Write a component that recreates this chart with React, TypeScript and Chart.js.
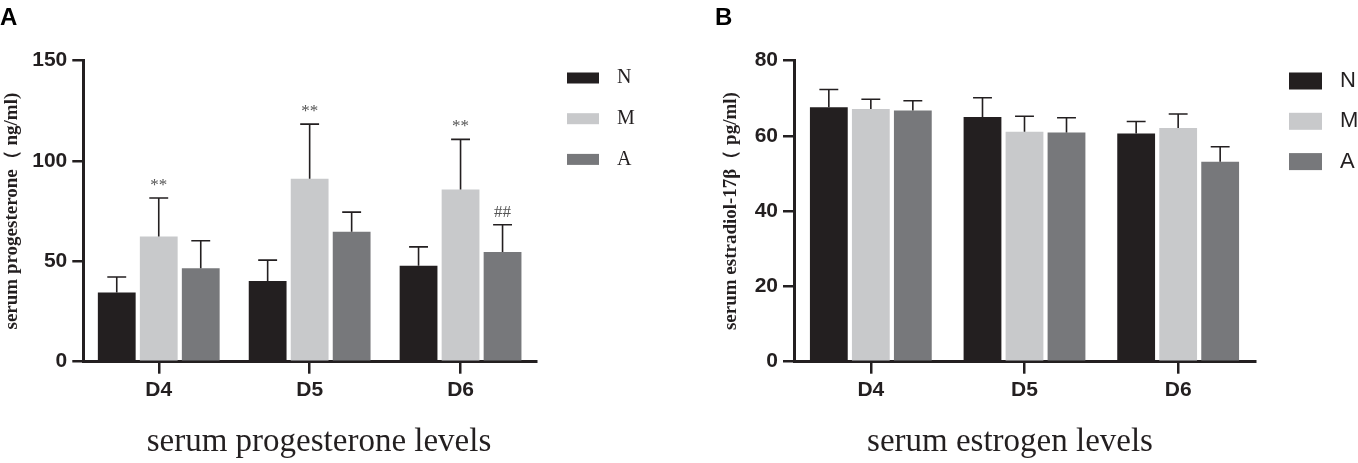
import { useEffect, useRef } from 'react'
import { Chart, registerables } from 'chart.js'

Chart.register(...registerables)

const categories = ['D4', 'D5', 'D6']
const groupLabels = ['N', 'M', 'A']
const groupColors = ['#231f20', '#c8c9cb', '#77787b']

// A: serum progesterone (ng/ml), mean + SD per group
const progN = [34.5, 40.2, 47.8]
const progM = [62.4, 91.1, 85.8]
const progA = [46.6, 64.7, 54.6]
const progNsd = [7.7, 10.4, 9.4]
const progMsd = [19.1, 27.2, 24.9]
const progAsd = [13.6, 9.8, 13.6]
const progMarksN = ['', '', '']
const progMarksM = ['**', '**', '**']
const progMarksA = ['', '', '##']

// B: serum estradiol-17β (pg/ml), mean + SD per group
const estN = [67.6, 65.0, 60.6]
const estM = [67.1, 61.1, 62.1]
const estA = [66.7, 60.9, 53.1]
const estNsd = [4.7, 5.1, 3.2]
const estMsd = [2.6, 4.1, 3.7]
const estAsd = [2.6, 3.9, 4.0]
const estMarks = ['', '', '']

const INK = '#231f20'
const SANS = '"Liberation Sans", Arial, sans-serif'
const SERIF = '"Liberation Serif", "Times New Roman", serif'

interface PanelProps {
  left: number
  width: number
  means: number[][]
  sds: number[][]
  marks: string[][]
  yMax: number
  yStep: number
  yTitle: string
  xTitle: string
  xTitleX: number
  axisWidth: number
  padRight: number
  yTitlePad: number
  catPct: number
  legendBoxX: number
  legendBoxW: number
  legendBoxH: number
  legendTextX: number
  legendY: number
  legendGap: number
  legendFont: string
}

const BarPanel = (p: PanelProps) => {
  const canvasRef = useRef<HTMLCanvasElement | null>(null)
  const chartRef = useRef<Chart | null>(null)

  useEffect(() => {
    const ctx = canvasRef.current?.getContext('2d')
    if (!ctx) return
    if (chartRef.current) chartRef.current.destroy()

    // error bars, significance marks, legend and x title
    const extras = {
      id: 'panelExtras',
      afterDatasetsDraw(chart: any) {
        const c = chart.ctx
        const yScale = chart.scales.y
        c.save()
        chart.data.datasets.forEach((ds: any, i: number) => {
          const meta = chart.getDatasetMeta(i)
          meta.data.forEach((bar: any, j: number) => {
            const top = yScale.getPixelForValue(ds.data[j] + p.sds[i][j])
            const half = bar.width / 4
            c.strokeStyle = INK
            c.lineWidth = 1.6
            c.beginPath()
            c.moveTo(bar.x, bar.y)
            c.lineTo(bar.x, top)
            c.moveTo(bar.x - half, top)
            c.lineTo(bar.x + half, top)
            c.stroke()
            const mark = p.marks[i][j]
            if (mark) {
              c.fillStyle = '#555'
              c.font = `17px ${SERIF}`
              c.textAlign = 'center'
              c.textBaseline = 'alphabetic'
              c.fillText(mark, bar.x, top - 8)
            }
          })
          // legend row
          const rowY = p.legendY + i * p.legendGap
          c.fillStyle = ds.backgroundColor
          c.fillRect(p.legendBoxX, rowY - p.legendBoxH / 2, p.legendBoxW, p.legendBoxH)
          c.fillStyle = INK
          c.font = p.legendFont
          c.textAlign = 'left'
          c.textBaseline = 'middle'
          c.fillText(ds.label, p.legendTextX, rowY)
        })
        c.fillStyle = INK
        c.font = `33px ${SERIF}`
        c.textAlign = 'center'
        c.textBaseline = 'middle'
        c.fillText(p.xTitle, p.xTitleX, 442)
        c.restore()
      },
    }

    chartRef.current = new Chart(ctx, {
      type: 'bar',
      data: {
        labels: categories,
        datasets: groupLabels.map((label, i) => ({
          label,
          data: p.means[i],
          backgroundColor: groupColors[i],
          borderWidth: 0,
          categoryPercentage: p.catPct,
          barPercentage: 0.9,
        })),
      },
      options: {
        responsive: false,
        animation: false,
        events: [],
        layout: { padding: { left: 0, top: 60.5, right: p.padRight, bottom: 0 } },
        plugins: {
          legend: { display: false },
          tooltip: { enabled: false },
          title: { display: false },
        },
        scales: {
          x: {
            afterFit: (s: any) => {
              s.height = 463 - 361.7
            },
            border: { display: true, color: INK, width: 3 },
            grid: {
              display: true,
              offset: false,
              drawOnChartArea: false,
              drawTicks: true,
              tickLength: 12,
              lineWidth: 2.5,
              color: INK,
            },
            ticks: {
              color: INK,
              padding: 4,
              font: { family: SANS, size: 21, weight: 'bold' },
            },
          },
          y: {
            min: 0,
            max: p.yMax,
            afterFit: (s: any) => {
              s.width = p.axisWidth
            },
            border: { display: true, color: INK, width: 3 },
            grid: {
              display: true,
              drawOnChartArea: false,
              drawTicks: true,
              tickLength: 11,
              lineWidth: 2.5,
              color: INK,
            },
            ticks: {
              stepSize: p.yStep,
              color: INK,
              padding: 5,
              font: { family: SANS, size: 21, weight: 'bold' },
            },
            title: {
              display: true,
              text: p.yTitle,
              color: INK,
              padding: { top: p.yTitlePad, bottom: 0 },
              font: { family: SERIF, size: 19, weight: 'bold', lineHeight: 1.2 },
            },
          },
        },
      },
      plugins: [extras],
    } as any)

    return () => {
      if (chartRef.current) {
        chartRef.current.destroy()
        chartRef.current = null
      }
    }
  }, [p])

  return (
    <canvas
      ref={canvasRef}
      width={p.width}
      height={463}
      style={{ position: 'absolute', left: p.left, top: 0, width: p.width, height: 463 }}
    />
  )
}

const panelA: PanelProps = {
  left: 0,
  width: 680,
  means: [progN, progM, progA],
  sds: [progNsd, progMsd, progAsd],
  marks: [progMarksN, progMarksM, progMarksA],
  yMax: 150,
  yStep: 50,
  yTitle: 'serum progesterone（ ng/ml)',
  xTitle: 'serum progesterone levels',
  xTitleX: 319,
  axisWidth: 83.3,
  padRight: 144,
  yTitlePad: 0.6,
  catPct: 0.835,
  legendBoxX: 567,
  legendBoxW: 32,
  legendBoxH: 11,
  legendTextX: 617,
  legendY: 78,
  legendGap: 40.7,
  legendFont: `20px ${SERIF}`,
}

const panelB: PanelProps = {
  left: 680,
  width: 678,
  means: [estN, estM, estA],
  sds: [estNsd, estMsd, estAsd],
  marks: [estMarks, estMarks, estMarks],
  yMax: 80,
  yStep: 20,
  yTitle: 'serum estradiol-17β（ pg/ml)',
  xTitle: 'serum estrogen levels',
  xTitleX: 330,
  axisWidth: 114,
  padRight: 103,
  yTitlePad: 39.6,
  catPct: 0.82,
  legendBoxX: 609,
  legendBoxW: 33,
  legendBoxH: 17,
  legendTextX: 660,
  legendY: 81,
  legendGap: 40.3,
  legendFont: `22px ${SANS}`,
}

const letterStyle = {
  position: 'absolute' as const,
  top: 5,
  fontFamily: SANS,
  fontWeight: 'bold' as const,
  fontSize: 24,
  lineHeight: 1,
  color: '#000',
}

export default function App() {
  return (
    <div style={{ position: 'absolute', left: 0, top: 0, width: 1358, height: 463, background: '#fff', overflow: 'hidden' }}>
      <BarPanel {...panelA} />
      <BarPanel {...panelB} />
      <div style={{ ...letterStyle, left: 0 }}>A</div>
      <div style={{ ...letterStyle, left: 715 }}>B</div>
    </div>
  )
}
